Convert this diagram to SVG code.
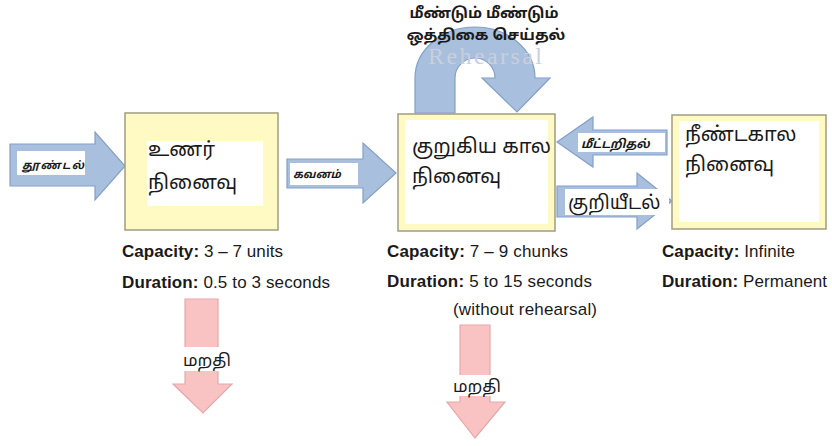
<svg xmlns="http://www.w3.org/2000/svg" width="832" height="446" viewBox="0 0 832 446">
<defs>
<style>
.blue{fill:#a8bfdd;stroke:#84a0c8;stroke-width:1.2}
.pink{fill:#f9c3c3;stroke:#e4a9a9;stroke-width:1.2}
.box{fill:#fffac4;stroke:#a19d80;stroke-width:1.5}
.inner{fill:#ffffff}
.lab{fill:#ffffff}
.ta{font-family:"Noto Sans Tamil","Lohit Tamil","Latha","Noto Sans",sans-serif;fill:#1a1a1a}
.en{font-family:"Liberation Sans",Arial,sans-serif;fill:#1a1a1a;font-size:17px}
.b{font-weight:bold}
</style>
</defs>
<rect width="832" height="446" fill="#ffffff"/>
<g id="connectors">
  <g id="rehearsal-loop">
    <path class="blue" d="M415,113 L415,78 A60,51 0 0 1 535,78 L550,78 L517,112 L482,78 L495,78 A20,20 0 0 0 455,78 L455,113 Z"/>
    <text x="428" y="64" font-family="Liberation Serif,serif" font-size="24" fill="#c9d0dc" textLength="114">Rehearsal</text>
  </g>
  <g id="stimulus-arrow">
    <path class="blue" d="M10,144 L95,144 L95,132 L125,166 L95,200 L95,186 L10,186 Z"/>
    <rect class="lab" x="17" y="151" width="68" height="24"/>
    <text class="ta b" x="22" y="169" font-size="11" font-style="italic" textLength="62">தூண்டல்</text>
  </g>
  <g id="attention-arrow">
    <path class="blue" d="M287,159 L363,159 L363,143 L396,173 L363,203 L363,188 L287,188 Z"/>
    <rect class="lab" x="290" y="163" width="68" height="22"/>
    <text class="ta b" x="293" y="178" font-size="11" font-style="italic">கவனம்</text>
  </g>
  <g id="retrieval-arrow">
    <path class="blue" d="M667,130 L593,130 L593,117 L557,142 L593,167 L593,155 L667,155 Z"/>
    <rect class="lab" x="578" y="133" width="87" height="19"/>
    <text class="ta b" x="581" y="148" font-size="12" font-style="italic">மீட்டறிதல்</text>
  </g>
  <g id="encoding-arrow">
    <path class="blue" d="M557,186 L637,186 L637,173 L672,201 L637,229 L637,217 L557,217 Z"/>
    <rect class="lab" x="565" y="189" width="104" height="26"/>
    <text class="ta" x="568" y="209" font-size="19">குறியீடல்</text>
  </g>
  <g id="forget-sensory">
    <path class="pink" d="M185,299 L218,299 L218,384 L232,384 L203,413 L173,384 L185,384 Z"/>
    <rect class="lab" x="180" y="347" width="58" height="24"/>
    <text class="ta" x="183" y="366" font-size="17">மறதி</text>
  </g>
  <g id="forget-stm">
    <path class="pink" d="M460,325 L490,325 L490,402 L505,402 L475,438 L447,402 L460,402 Z"/>
    <rect class="lab" x="452" y="375" width="51" height="21"/>
    <text class="ta" x="453" y="392" font-size="17">மறதி</text>
  </g>
</g>
<g id="rehearsal-text">
  <text class="ta b" x="484" y="18" font-size="15" text-anchor="middle">மீண்டும் மீண்டும்</text>
  <text class="ta b" x="486" y="40" font-size="15" text-anchor="middle">ஒத்திகை செய்தல்</text>
</g>
<g id="sensory-memory">
  <rect class="box" x="125" y="113" width="153" height="117"/>
  <rect class="inner" x="147" y="141" width="116" height="65"/>
  <text class="ta" x="148" y="156" font-size="20">உணர்</text>
  <text class="ta" x="148" y="189" font-size="20">நினைவு</text>
  <text class="en" x="122" y="257" textLength="161"><tspan class="b">Capacity:</tspan> 3 – 7 units</text>
  <text class="en" x="122" y="288" textLength="208"><tspan class="b">Duration:</tspan> 0.5 to 3 seconds</text>
</g>
<g id="short-term-memory">
  <rect class="box" x="398" y="114" width="157" height="117"/>
  <rect class="inner" x="405" y="120" width="143" height="104"/>
  <text class="ta" x="412" y="153" font-size="20">குறுகிய கால</text>
  <text class="ta" x="412" y="183" font-size="20">நினைவு</text>
  <text class="en" x="387" y="257" textLength="181"><tspan class="b">Capacity:</tspan> 7 – 9 chunks</text>
  <text class="en" x="387" y="287" textLength="205"><tspan class="b">Duration:</tspan> 5 to 15 seconds</text>
  <text class="en" x="453" y="315" textLength="144">(without rehearsal)</text>
</g>
<g id="long-term-memory">
  <rect class="box" x="672" y="115" width="154" height="114"/>
  <rect class="inner" x="679" y="121" width="140" height="101"/>
  <text class="ta" x="685" y="141" font-size="20">நீண்டகால</text>
  <text class="ta" x="685" y="171" font-size="20">நினைவு</text>
  <text class="en" x="662" y="257" textLength="133"><tspan class="b">Capacity:</tspan> Infinite</text>
  <text class="en" x="662" y="287" textLength="165"><tspan class="b">Duration:</tspan> Permanent</text>
</g>
</svg>
